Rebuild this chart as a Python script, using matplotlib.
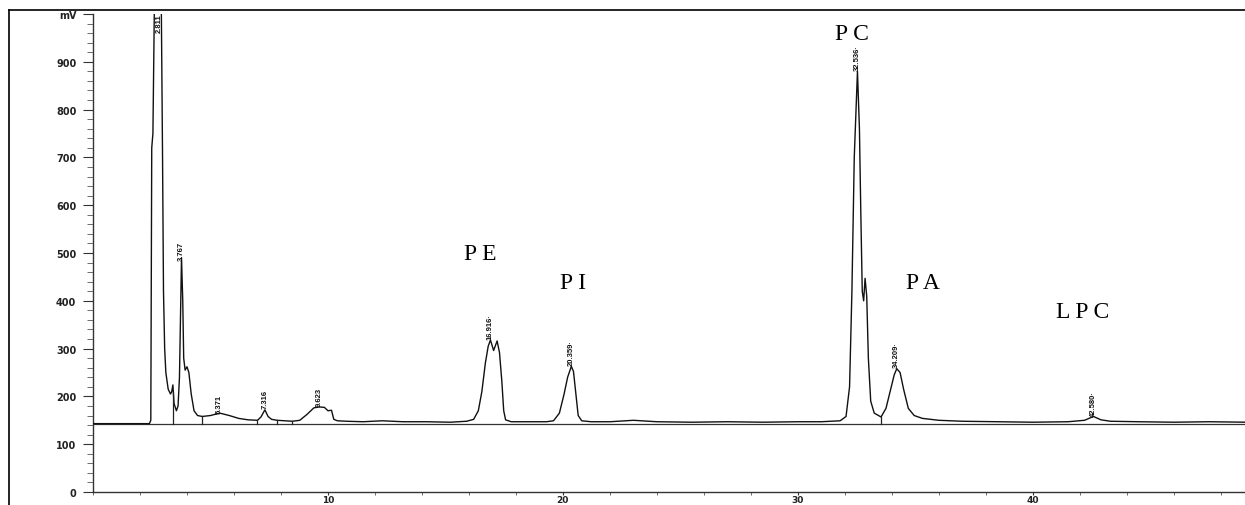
import matplotlib
matplotlib.use("Agg")
import matplotlib.pyplot as plt
from matplotlib.lines import Line2D

# ---------------- data ----------------
trace_t = [0.0, 2.40, 2.46, 2.50, 2.55, 2.62, 2.75, 2.90, 2.96, 3.00, 3.05, 3.10, 3.20,
           3.30, 3.35, 3.40, 3.45, 3.55, 3.62, 3.68, 3.72, 3.767, 3.82, 3.86, 3.92,
           4.00, 4.08, 4.18, 4.30, 4.45, 4.65, 5.0, 5.4, 5.8, 6.2, 6.6, 7.0, 7.15,
           7.316, 7.45, 7.6, 7.84, 8.2, 8.48, 8.8, 9.1, 9.4, 9.623, 9.85, 10.0, 10.15,
           10.25, 10.4, 10.8, 11.5, 12.3, 13.2, 14.2, 15.2, 15.9, 16.2, 16.4, 16.55,
           16.7, 16.82, 16.916, 17.05, 17.2, 17.3, 17.4, 17.48, 17.56, 17.8, 18.5,
           19.3, 19.6, 19.85, 20.05, 20.2, 20.359, 20.45, 20.55, 20.65, 20.8, 21.2,
           22.0, 23.0, 24.0, 25.5, 27.0, 28.5, 30.0, 31.0, 31.8, 32.05, 32.2, 32.3,
           32.4, 32.536, 32.62, 32.68, 32.74, 32.8, 32.86, 32.93, 33.0, 33.1, 33.25,
           33.54, 33.75, 33.95, 34.1, 34.209, 34.35, 34.5, 34.7, 34.95, 35.3, 36.0,
           37.0, 38.5, 40.0, 41.5, 42.2, 42.580, 42.9, 43.3, 44.5, 46.0, 47.5, 49.1]
trace_mv = [143, 143, 150, 720, 750, 1050, 1160, 1060, 700, 420, 300, 250, 215,
            205, 210, 224, 185, 170, 180, 240, 360, 490, 400, 280, 255,
            262, 250, 205, 170, 160, 158, 160, 165, 160, 154, 151, 150, 157,
            172, 158, 152, 150, 149, 148, 150, 162, 176, 178, 177, 170, 171,
            152, 149, 148, 147, 149, 147, 147, 146, 148, 152, 170, 210,
            270, 305, 318, 296, 316, 292, 232, 170, 151, 147, 147,
            147, 149, 165, 205, 240, 263, 252, 205, 160, 149, 147,
            147, 150, 147, 146, 147, 146, 147, 147, 149, 158, 220, 420,
            700, 880, 760, 580, 420, 400, 447, 410, 280, 190, 165,
            157, 175, 215, 245, 258, 250, 215, 175, 160, 154, 150,
            148, 147, 146, 147, 150, 158, 151, 148, 147, 146, 147, 146]

baseline_mv = 142.5
drop_t = [3.42, 4.65, 7.0, 7.84, 8.48, 33.54]

peak_rt = [2.811, 3.767, 5.371, 7.316, 9.623, 16.916, 20.359, 32.536, 34.209, 42.580]
peak_labels = ["2.811", "3.767", "5.371", "7.316", "9.623", "16.916\u00b7",
               "20.359\u00b7", "32.536\u00b7", "34.209\u00b7", "42.580\u00b7"]
peak_label_mv = [962, 485, 166, 176, 180, 320, 266, 882, 262, 160]

names = ["P E", "P I", "P C", "P A", "L P C"]
name_t = [16.49, 20.44, 32.31, 35.31, 42.10]
name_mv = [498, 439, 960, 439, 377]

y_ticks = [0, 100, 200, 300, 400, 500, 600, 700, 800, 900, 1000]
y_ticklabels = ["0", "100", "200", "300", "400", "500", "600", "700", "800", "900", "mV"]
x_ticks = [10, 20, 30, 40]
x_ticklabels = ["10", "20", "30", "40"]

# ---------------- figure ----------------
fig = plt.figure(figsize=(12.45, 5.06), dpi=100)
fig.patch.set_facecolor("white")
ax = fig.add_axes([93 / 1245, 13 / 506, 1 - 93 / 1245, (493 - 15) / 506])
ax.set_facecolor("white")

def interp_trace(t):
    for i in range(len(trace_t) - 1):
        if trace_t[i] <= t <= trace_t[i + 1]:
            f = (t - trace_t[i]) / (trace_t[i + 1] - trace_t[i])
            return trace_mv[i] + f * (trace_mv[i + 1] - trace_mv[i])
    return baseline_mv

ax.axhline(baseline_mv, color="#333333", lw=0.9, zorder=2)
ax.plot(trace_t, trace_mv, color="#111111", lw=1.0, zorder=3)
for t in drop_t:
    ax.plot([t, t], [baseline_mv, interp_trace(t)], color="#222222", lw=0.9, zorder=3)

for t, s, y in zip(peak_rt, peak_labels, peak_label_mv):
    ax.text(t, y, s, rotation=90, ha="center", va="bottom", fontsize=5.5,
            fontweight="bold", family="Liberation Sans", color="#111111", zorder=4)

for s, t, y in zip(names, name_t, name_mv):
    ax.text(t, y, s, ha="center", va="center", fontsize=17,
            family="Liberation Serif", color="#000000", zorder=4)

ax.set_xlim(0, 49.03)
ax.set_ylim(0, 1000)
for sp in ["top", "right"]:
    ax.spines[sp].set_visible(False)
for sp in ["left", "bottom"]:
    ax.spines[sp].set_color("#333333")
    ax.spines[sp].set_linewidth(1.0)

ax.set_yticks(y_ticks)
ax.set_yticklabels(y_ticklabels)
ax.set_yticks(list(range(0, 1001, 20)), minor=True)
ax.set_xticks(x_ticks)
ax.set_xticklabels(x_ticklabels)
ax.set_xticks(list(range(0, 50, 2)), minor=True)
ax.tick_params(axis="y", which="major", length=7, width=0.8, color="#333333",
               labelsize=7, pad=5, labelcolor="#222222")
ax.tick_params(axis="y", which="minor", length=4, width=0.6, color="#555555")
ax.tick_params(axis="x", which="major", length=2, width=0.8, color="#333333",
               labelsize=6.5, pad=0, labelcolor="#222222")
ax.tick_params(axis="x", which="minor", length=2, width=0.6, color="#555555")
for lab in ax.get_yticklabels() + ax.get_xticklabels():
    lab.set_fontweight("bold")

# outer frame of the scanned page
fig.add_artist(Line2D([9 / 1245, 1.0], [1 - 11 / 506, 1 - 11 / 506],
                      transform=fig.transFigure, color="black", lw=1.2))
fig.add_artist(Line2D([9 / 1245, 9 / 1245], [0, 1 - 11 / 506],
                      transform=fig.transFigure, color="black", lw=1.2))

fig.savefig("out.png", dpi=100, facecolor="white")
